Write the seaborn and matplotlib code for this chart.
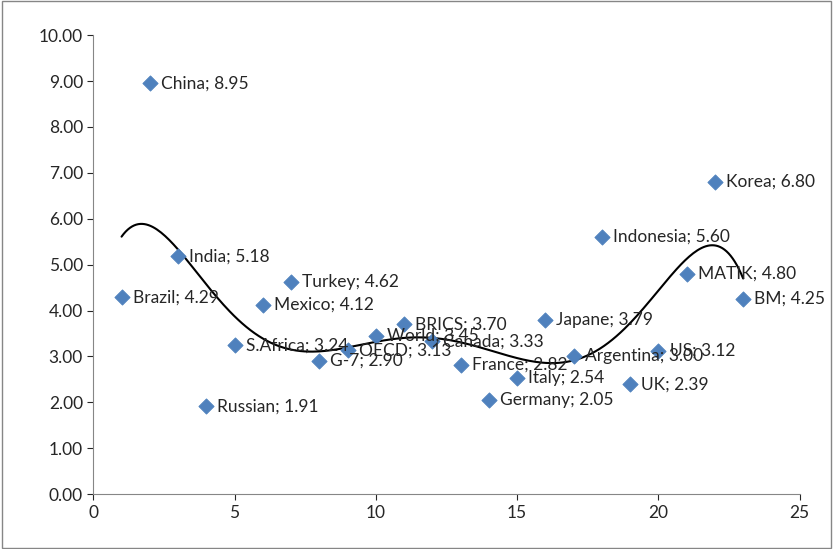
import numpy as np
import pandas as pd
import seaborn as sns
import matplotlib
matplotlib.use("Agg")
import matplotlib.pyplot as plt

names = ["Brazil","China","India","Russian","S.Africa","Mexico","Turkey","G-7","OECD","World",
         "BRICS","Canada","France","Germany","Italy","Japane","Argentina","Indonesia","UK","US",
         "MATIK","Korea","BM"]
xs = list(range(1, 24))
ys = [4.29,8.95,5.18,1.91,3.24,4.12,4.62,2.90,3.13,3.45,3.70,3.33,2.82,2.05,2.54,3.79,3.00,5.60,2.39,3.12,4.80,6.80,4.25]

sns.set_style("white")
plt.rcParams['font.family'] = ['Lato', 'DejaVu Sans']
fig = plt.figure(figsize=(8.33, 5.49), dpi=100)
ax = fig.add_axes([0.112, 0.1, 0.848, 0.836])
df = pd.DataFrame({"x": xs, "y": ys, "name": names})
sns.scatterplot(data=df, x="x", y="y", marker="D", s=60, color="#4f81bd", edgecolor="#4f81bd", ax=ax, zorder=3)
c = np.polyfit(xs, ys, 6)
xx = np.linspace(1, 23, 300)
ax.plot(xx, np.polyval(c, xx), color="black", lw=1.5, zorder=2)
for n, x, y in zip(names, xs, ys):
    ax.annotate(f"{n}; {y:.2f}", (x, y), xytext=(8, 0), textcoords="offset points",
                va="center", fontsize=12.5, zorder=4)
ax.set_xlim(0, 25)
ax.set_ylim(0, 10)
ax.set_xticks(range(0, 26, 5))
ax.set_yticks(np.arange(0, 10.01, 1))
ax.set_yticklabels([f"{v:.2f}" for v in np.arange(0, 10.01, 1)])
ax.set_xlabel(""); ax.set_ylabel("")
ax.tick_params(labelsize=12.5, direction="out", length=4, left=True, bottom=True)
for s in ["top", "right"]:
    ax.spines[s].set_visible(False)
for s in ["left", "bottom"]:
    ax.spines[s].set_color("#868686")
fig.patches.append(plt.Rectangle((0.002, 0.002), 0.996, 0.996, transform=fig.transFigure,
                                 fill=False, edgecolor="#868686", lw=1))
fig.savefig("out.png", dpi=100)
